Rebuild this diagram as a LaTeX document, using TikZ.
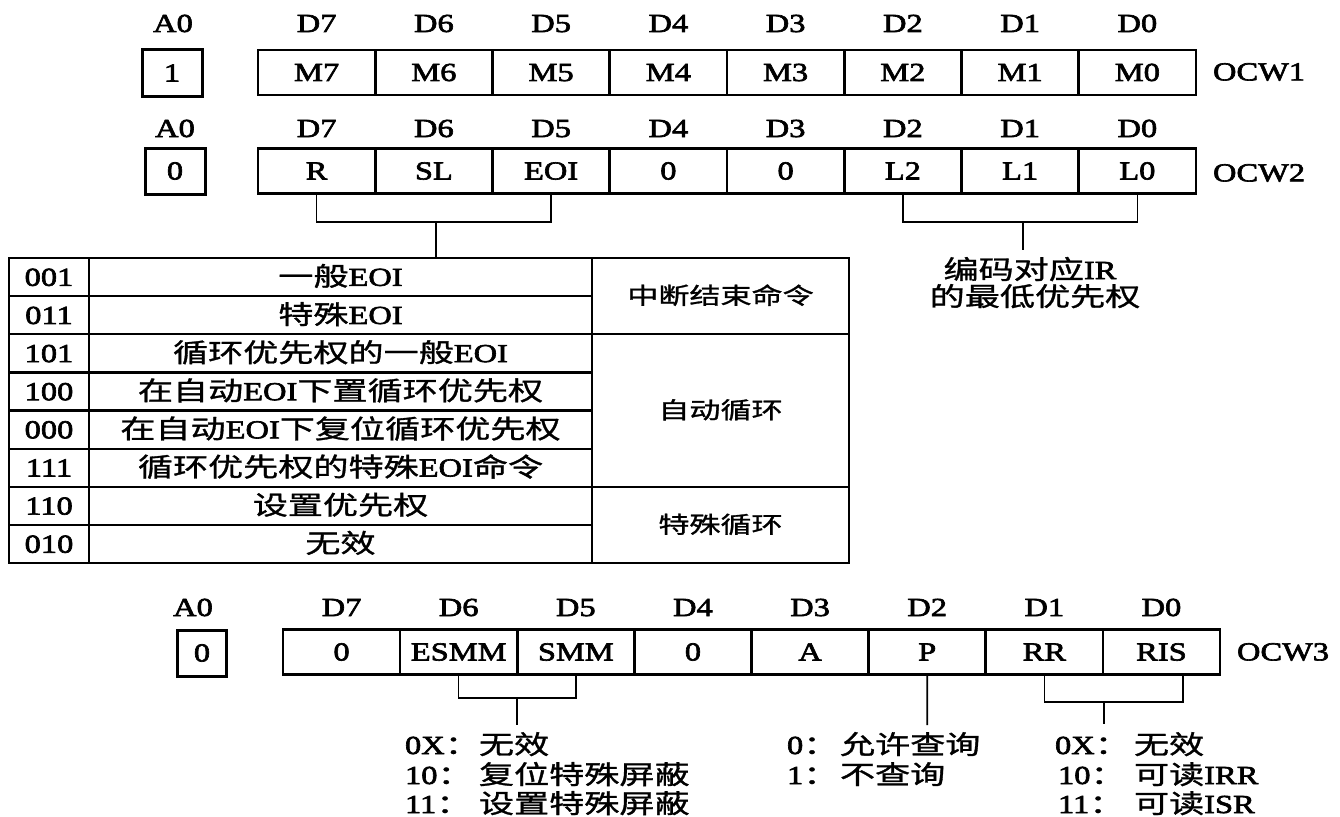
\documentclass[tikz,border=0pt]{standalone}
\usepackage{fontspec}
\setmainfont{Liberation Serif}[FakeStretch=1.25,FakeBold=2.5]
\newfontfamily\cjk{Noto Sans CJK SC}[FakeStretch=1.35,Scale=1.0,FakeBold=1.2]
\newcommand\zh[1]{{\cjk #1}}
\begin{document}
\begin{tikzpicture}[x=1pt,y=-1pt,
  every node/.style={inner sep=0pt,outer sep=0pt},
  lat/.style={font=\fontsize{26}{28}\selectfont},
  cell/.style={lat,draw,line width=2.6pt,minimum width=117.25pt,minimum height=45pt,text height=17pt,text depth=0pt},
  abox/.style={lat,draw,line width=3pt,minimum height=46pt,text height=17pt,text depth=0pt},
  lbl/.style={lat,anchor=base},
  cat/.style={font=\fontsize{23}{26}\selectfont,anchor=base},
  br/.style={line width=1.6pt},
  tline/.style={line width=2.8pt},
  rline/.style={line width=2.2pt}
]
\useasboundingbox (0,0) rectangle (1340,816);

% bit labels
\foreach \t [count=\i from 0] in {D7,D6,D5,D4,D3,D2,D1,D0}{
  \node[lbl] (la\i) at ({258+117.25*(\i+0.5)},32) {\t};
  \node[lbl] (lb\i) at ({258+117.25*(\i+0.5)},137) {\t};
  \node[lbl] (lc\i) at ({283+117.125*(\i+0.5)},616) {\t};
}
% registers
\foreach \t [count=\i from 0] in {M7,M6,M5,M4,M3,M2,M1,M0}
  \node[cell] (a\i) at ({258+117.25*(\i+0.5)},72.5) {\t};
\foreach \t [count=\i from 0] in {R,SL,EOI,0,0,L2,L1,L0}
  \node[cell] (b\i) at ({258+117.25*(\i+0.5)},171) {\t};
\foreach \t [count=\i from 0] in {0,ESMM,SMM,0,A,P,RR,RIS}
  \node[cell,minimum width=117.125pt] (c\i) at ({283+117.125*(\i+0.5)},652) {\t};

% A0 boxes
\node[lbl] (a0l1) at (173,32) {A0};
\node[abox,minimum width=60pt] (a0b1) at (172,73) {1};
\node[lbl] (a0l2) at (175,137) {A0};
\node[abox,minimum width=60pt] (a0b2) at (175,171) {0};
\node[lbl] (a0l3) at (193,616) {A0};
\node[abox,minimum width=49pt] (a0b3) at (202,653) {0};

% OCW labels
\node[lat,anchor=west] (ocw1) at (1213,72) {OCW1};
\node[lat,anchor=west] (ocw2) at (1213,173) {OCW2};
\node[lat,anchor=west] (ocw3) at (1237,652) {OCW3};

% OCW2 brackets
\coordinate (k1) at (436,222);
\coordinate (tt) at (436,258);
\draw[br] (b0.south) |- (k1) -| (b2.south);
\draw[br] (k1) -- (tt);
\coordinate (k2) at (1023,222);
\coordinate (k2e) at (1023,250);
\draw[br] (b5.south) |- (k2) -| (b7.south);
\draw[br] (k2) -- (k2e);
\node[lat,anchor=base] (lt1) at (1030,279) {\zh{编码对应}IR};
\node[lat,anchor=base] (lt2) at (1035,306) {\zh{的最低优先权}};

% table
\draw[tline] (9,258) rectangle (849,563);
\draw[tline] (89,258) -- (89,563);
\draw[tline] (592,258) -- (592,563);
\foreach \y in {296.1,372.4,410.5,448.6,524.9} \draw[rline] (9,\y) -- (592,\y);
\foreach \y in {334.25,486.75} \draw[rline] (9,\y) -- (849,\y);
\foreach \c/\d [count=\r from 0] in {001/{\zh{一般}EOI},011/{\zh{特殊}EOI},101/{\zh{循环优先权的一般}EOI},100/{\zh{在自动}EOI\zh{下置循环优先权}},000/{\zh{在自动}EOI\zh{下复位循环优先权}},111/{\zh{循环优先权的特殊}EOI\zh{命令}},110/{\zh{设置优先权}},010/{\zh{无效}}}{
  \node[lat,anchor=base] (tc\r) at (49,{258+38.125*(\r+0.5)+8.8}) {\c};
  \node[lat,anchor=base] (td\r) at (340.5,{258+38.125*(\r+0.5)+8.8}) {\d};
}
\node[cat] (g1) at (720.5,304) {\zh{中断结束命令}};
\node[cat] (g2) at (720.5,418.5) {\zh{自动循环}};
\node[cat] (g3) at (720.5,533) {\zh{特殊循环}};

% OCW3 brackets
\coordinate (k3) at (517,698);
\coordinate (k3e) at (517,725);
\draw[br] (c1.south) |- (k3) -| (c2.south);
\draw[br] (k3) -- (k3e);
\coordinate (k4) at (927.2,725);
\draw[br] (c5.south) -- (k4);
\coordinate (k5) at (1104,702);
\coordinate (k5e) at (1104,724);
\coordinate (rq) at (1183,674);
\draw[br] (c6.south) |- (k5) -| (rq);
\draw[br] (k5) -- (k5e);

% OCW3 notes
\node[lat,anchor=base west] (t1) at (405,754) {\makebox[74pt][l]{0X\zh{：}}\zh{无效}};
\node[lat,anchor=base west] (t2) at (405,784) {\makebox[74pt][l]{10\zh{：}}\zh{复位特殊屏蔽}};
\node[lat,anchor=base west] (t3) at (405,813) {\makebox[74pt][l]{11\zh{：}}\zh{设置特殊屏蔽}};
\node[lat,anchor=base west] (p1) at (787,754) {\makebox[53pt][l]{0\zh{：}}\zh{允许查询}};
\node[lat,anchor=base west] (p2) at (787,784) {\makebox[53pt][l]{1\zh{：}}\zh{不查询}};
\node[lat,anchor=base west] (r1) at (1055,754) {\makebox[79pt][l]{0X\zh{：}}\zh{无效}};
\node[lat,anchor=base west] (r2) at (1058,784) {\makebox[76pt][l]{10\zh{：}}\zh{可读}IRR};
\node[lat,anchor=base west] (r3) at (1058,813) {\makebox[76pt][l]{11\zh{：}}\zh{可读}ISR};
\end{tikzpicture}
\end{document}
